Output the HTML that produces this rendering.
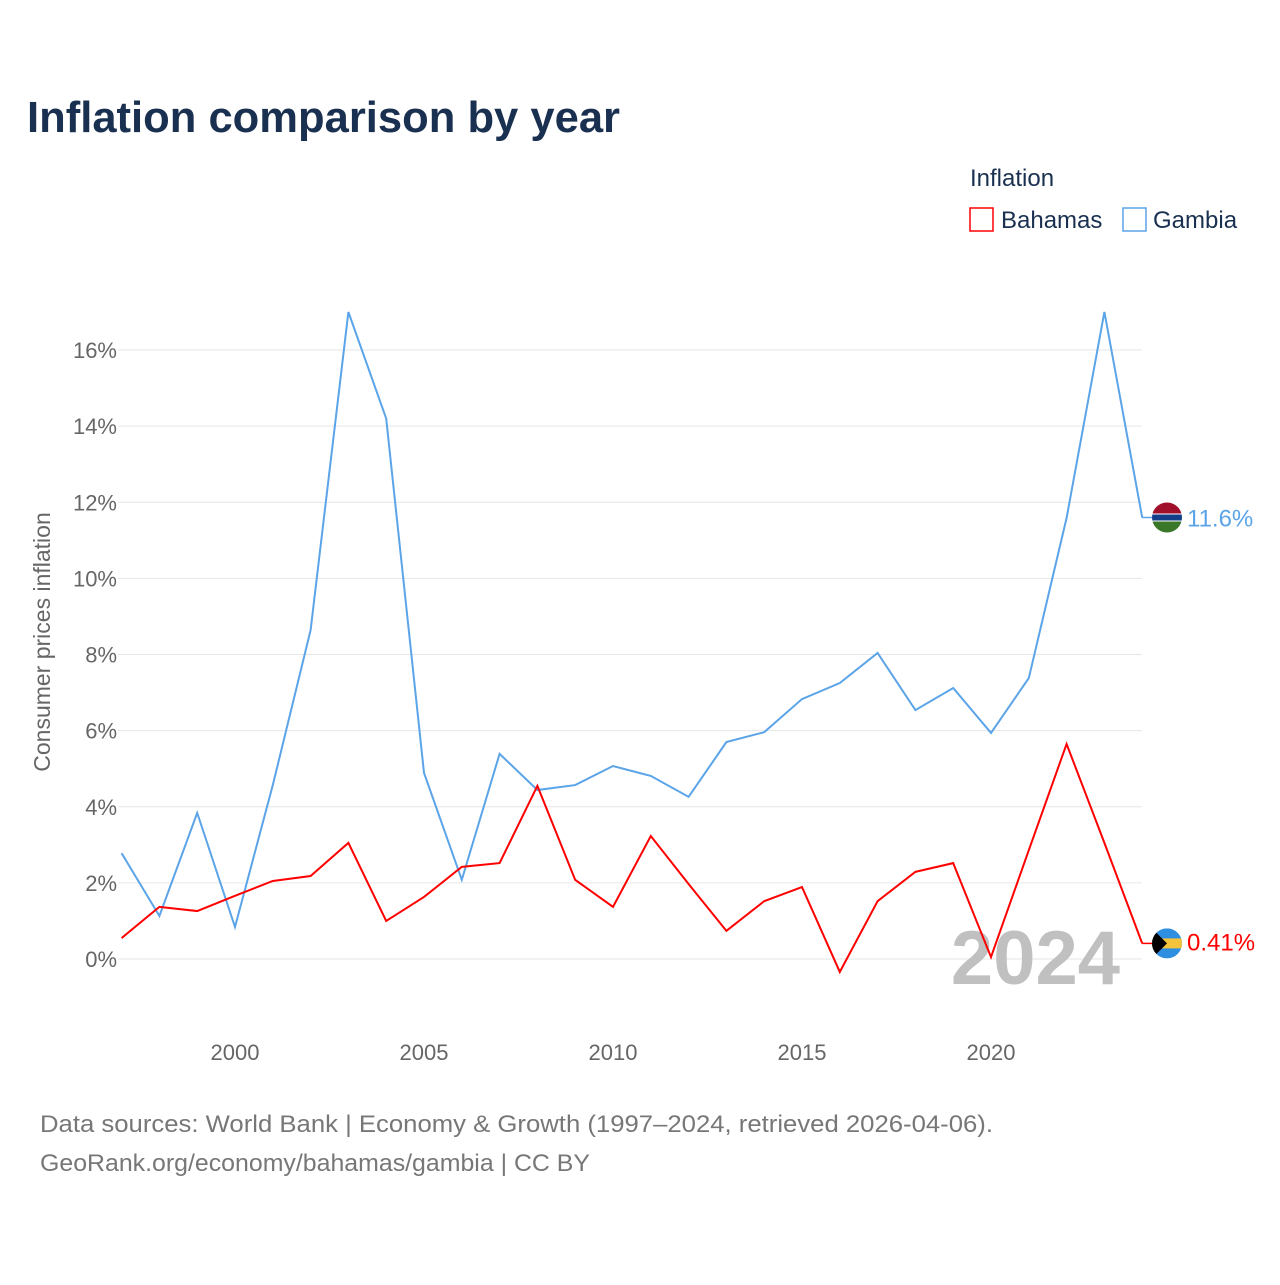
<!DOCTYPE html>
<html><head><meta charset="utf-8">
<style>
body{margin:0;background:#fff;font-family:"Liberation Sans",sans-serif;}
svg text{font-family:"Liberation Sans",sans-serif;}
</style></head>
<body>
<svg id="chart" width="1280" height="1280" viewBox="0 0 1280 1280">
<text x="27" y="132" font-size="44" font-weight="bold" fill="#1a3050" textLength="593" lengthAdjust="spacingAndGlyphs">Inflation comparison by year</text>
<text x="970" y="186" font-size="24" fill="#1a3050">Inflation</text>
<g>
<rect x="970" y="208" width="23" height="23" fill="none" stroke="#ff0000" stroke-width="1.5"/>
<text x="1001" y="228" font-size="24" fill="#1a3050">Bahamas</text></g>
<g>
<rect x="1123" y="208" width="23" height="23" fill="none" stroke="#5ba4e8" stroke-width="1.5"/>
<text x="1153" y="228" font-size="24" fill="#1a3050">Gambia</text></g>
<text transform="translate(50,642) rotate(-90)" text-anchor="middle" font-size="23" fill="#666">Consumer prices inflation</text>
<g id="grid"></g><g id="yticks"></g><g id="xticks"></g>
<text x="1120" y="984" text-anchor="end" font-size="76" font-weight="bold" fill="#c0c0c0">2024</text>
<g id="series"></g>
<text x="40" y="1132" font-size="24" fill="#777" textLength="953" lengthAdjust="spacingAndGlyphs">Data sources: World Bank | Economy &amp; Growth (1997–2024, retrieved 2026-04-06).</text>
<text x="40" y="1171" font-size="24" fill="#777" textLength="550" lengthAdjust="spacingAndGlyphs">GeoRank.org/economy/bahamas/gambia | CC BY</text>
</svg>
<script>
const years=[1997,1998,1999,2000,2001,2002,2003,2004,2005,2006,2007,2008,2009,2010,2011,2012,2013,2014,2015,2016,2017,2018,2019,2020,2021,2022,2023,2024];
const gambia=[2.78,1.13,3.84,0.84,4.57,8.64,17.0,14.2,4.89,2.08,5.39,4.44,4.57,5.07,4.81,4.26,5.70,5.96,6.83,7.25,8.04,6.54,7.12,5.94,7.38,11.59,17.0,11.6];
const bahamas=[0.55,1.37,1.26,1.66,2.05,2.18,3.05,1.0,1.63,2.42,2.52,4.55,2.08,1.37,3.23,1.97,0.74,1.52,1.89,-0.34,1.52,2.29,2.52,0.05,2.86,5.65,3.05,0.41];
const yTicks=[0,2,4,6,8,10,12,14,16];
const xTicks=[2000,2005,2010,2015,2020];
const NS="http://www.w3.org/2000/svg";
const X=y=>121.6+(y-1997)*37.8;
const Y=v=>959-v*38.06;
function mk(t,a,p){const e=document.createElementNS(NS,t);for(const k in a)e.setAttribute(k,a[k]);p.appendChild(e);return e;}
const grid=document.getElementById('grid'),yt=document.getElementById('yticks'),xt=document.getElementById('xticks'),ser=document.getElementById('series');
yTicks.forEach(v=>{
 const l=mk('line',{x1:118,x2:1142,y1:Y(v),y2:Y(v),stroke:'#e6e6e6','stroke-width':1},grid);
 
 
 const t=mk('text',{x:117,y:Y(v)+8,'text-anchor':'end','font-size':22,fill:'#666'},yt);
 t.textContent=v+'%';
 
 
});
xTicks.forEach(v=>{
 const t=mk('text',{x:X(v),y:1060,'text-anchor':'middle','font-size':22,fill:'#666'},xt);
 t.textContent=v;
 
 
});
function line(vals,color,name){
 const p=mk('polyline',{points:vals.map((v,i)=>X(years[i])+','+Y(v)).join(' '),fill:'none',stroke:color,'stroke-width':2,'stroke-linejoin':'miter'},ser);
 
 
 const last=vals[vals.length-1],lx=X(years[years.length-1]),ly=Y(last);
 mk('line',{x1:lx,x2:lx+10,y1:ly,y2:ly,stroke:color,'stroke-width':1.5},ser);
 return {lx,ly,last};
}
const g=line(gambia,'#5ba4e8','gambia');
const b=line(bahamas,'#ff0000','bahamas');
let fg=mk('g',{},ser);


const cpg=mk('clipPath',{id:'cg'},fg);mk('circle',{cx:1167,cy:g.ly,r:15},cpg);
const gg=mk('g',{'clip-path':'url(#cg)'},fg);
mk('rect',{x:1150,y:g.ly-15,width:34,height:11,fill:'#a0102a'},gg);
mk('rect',{x:1150,y:g.ly-4,width:34,height:8,fill:'#fff'},gg);
mk('rect',{x:1150,y:g.ly-3,width:34,height:6,fill:'#123e8a'},gg);
mk('rect',{x:1150,y:g.ly+4,width:34,height:12,fill:'#3a7728'},gg);
let tg=mk('text',{x:1187,y:g.ly+9,'font-size':24,fill:'#5ba4e8'},ser);tg.textContent=g.last+'%';


let fb=mk('g',{},ser);


const cp=mk('clipPath',{id:'cb'},fb);mk('circle',{cx:1167,cy:b.ly,r:15},cp);
const gb=mk('g',{'clip-path':'url(#cb)'},fb);
mk('rect',{x:1150,y:b.ly-15,width:34,height:30,fill:'#2e8fe0'},gb);
mk('rect',{x:1150,y:b.ly-5,width:34,height:10,fill:'#f3c33c'},gb);
mk('polygon',{points:`1152,${b.ly-15} 1167,${b.ly} 1152,${b.ly+15}`,fill:'#000'},gb);
let tb=mk('text',{x:1187,y:b.ly+7,'font-size':24,fill:'#ff0000'},ser);tb.textContent=b.last+'%';


</script>
</body></html>
